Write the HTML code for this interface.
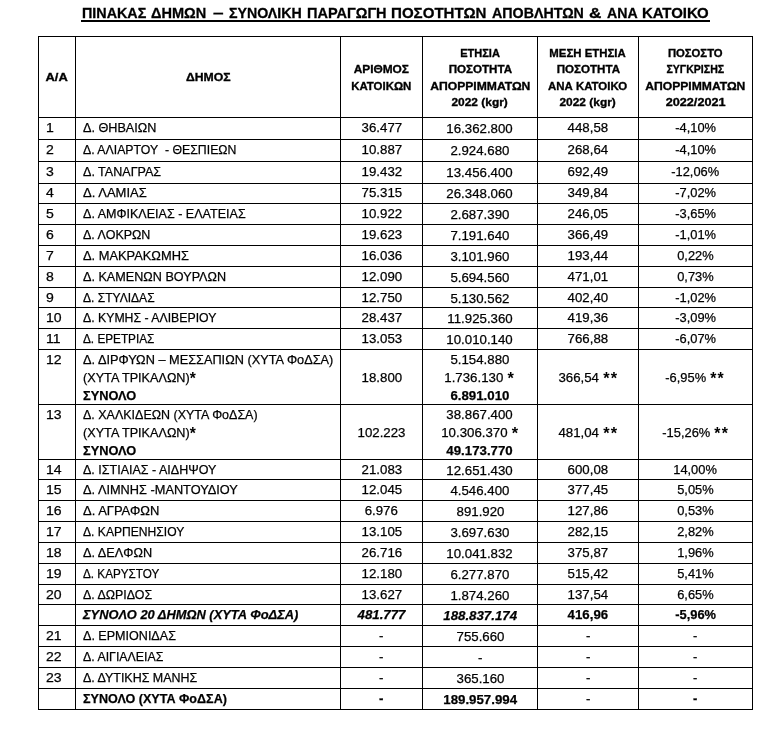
<!DOCTYPE html>
<html lang="el"><head><meta charset="utf-8"><title>ΠΙΝΑΚΑΣ ΔΗΜΩΝ</title>
<style>
html,body{margin:0;padding:0;background:#fff;}
body{width:784px;height:738px;position:relative;overflow:hidden;font-family:"Liberation Sans",sans-serif;color:#000;}
#title{position:absolute;left:0;top:4px;width:784px;height:20px;font-weight:bold;-webkit-text-stroke:0.3px #000;font-size:15.5px;line-height:18px;white-space:nowrap;}
#title span{position:absolute;top:0;display:block;transform-origin:0 50%;}
#title i{position:absolute;left:81px;top:16px;width:629px;height:2px;background:#000;}
table{position:absolute;left:38px;top:36px;border-collapse:collapse;table-layout:fixed;width:715px;}
td,th{border:1px solid #000;padding:0;margin:0;overflow:visible;white-space:nowrap;box-sizing:border-box;}
th{-webkit-text-stroke:0.3px #000;font-size:10px;line-height:16.33px;font-weight:bold;text-align:center;vertical-align:middle;padding-top:3px;}
th span{display:inline-block;transform:scaleX(1.13);transform-origin:50% 50%;}
td{-webkit-text-stroke:0.25px #000;font-size:13px;line-height:15px;vertical-align:top;text-align:center;padding-top:2px;}
td.l{text-align:left;padding-left:7px;}
td.c4{padding-top:3px;}
tr.up td{padding-top:1px}
tr.up td.c4{padding-top:2px}
tr.ml td{line-height:18px;padding-top:0px;}
tr.ml td div.w{height:50px;padding-top:0.5px;}
tr.ml td.c4 div.w{padding-top:1px;}
tr.ml td:first-child{line-height:15px;padding-top:2px}
td span{display:inline-block;transform-origin:50% 50%;transform:scaleX(1.02);}
td.l span{transform-origin:0 50%;transform:scaleX(0.972);}
td.n span{transform:scaleX(1.08);}
td.p span{transform:scaleX(0.99);}
b{font-weight:bold}
b.a2{font-size:16px;line-height:0;position:relative;top:2px;-webkit-text-stroke:0}
b.a{-webkit-text-stroke:0;font-size:16px;letter-spacing:1.3px;line-height:0;position:relative;top:2px;margin-left:0.5px}
</style></head><body>
<div id="title"><span style="left:81.6px;transform:scaleX(0.9235)">ΠΙΝΑΚΑΣ</span> <span style="left:151.2px;transform:scaleX(0.9379)">ΔΗΜΩΝ</span> <span style="left:212.9px;transform:scaleX(1.2250)">–</span> <span style="left:229.1px;transform:scaleX(0.9152)">ΣΥΝΟΛΙΚΗ</span> <span style="left:306.9px;transform:scaleX(0.9361)">ΠΑΡΑΓΩΓΗ</span> <span style="left:391.4px;transform:scaleX(0.9729)">ΠΟΣΟΤΗΤΩΝ</span> <span style="left:491.9px;transform:scaleX(0.9192)">ΑΠΟΒΛΗΤΩΝ</span> <span style="left:589.3px;transform:scaleX(1.1091)">&amp;</span> <span style="left:607.1px;transform:scaleX(0.9121)">ΑΝΑ</span> <span style="left:642.3px;transform:scaleX(0.9647)">ΚΑΤΟΙΚΟ</span><i></i></div>
<table><colgroup><col style="width:37px"><col style="width:265px"><col style="width:82px"><col style="width:115px"><col style="width:101px"><col style="width:114px"></colgroup>
<tr style="height:81px"><th><span style="transform:scaleX(1.2939)">Α/Α</span></th><th><span style="transform:scaleX(1.2236)">ΔΗΜΟΣ</span></th><th><span style="transform:scaleX(1.1877)">ΑΡΙΘΜΟΣ</span><br><span style="transform:scaleX(1.1434)">ΚΑΤΟΙΚΩΝ</span></th><th><span style="transform:scaleX(1.1023)">ΕΤΗΣΙΑ</span><br><span style="transform:scaleX(1.1572)">ΠΟΣΟΤΗΤΑ</span><br><span style="transform:scaleX(1.2136)">ΑΠΟΡΡΙΜΜΑΤΩΝ</span><br><span style="transform:scaleX(1.1915)">2022 (kgr)</span></th><th><span style="transform:scaleX(1.1385)">ΜΕΣΗ ΕΤΗΣΙΑ</span><br><span style="transform:scaleX(1.1572)">ΠΟΣΟΤΗΤΑ</span><br><span style="transform:scaleX(1.1434)">ΑΝΑ ΚΑΤΟΙΚΟ</span><br><span style="transform:scaleX(1.1915)">2022 (kgr)</span></th><th><span style="transform:scaleX(1.1278)">ΠΟΣΟΣΤΟ</span><br><span style="transform:scaleX(1.0554)">ΣΥΓΚΡΙΣΗΣ</span><br><span style="transform:scaleX(1.2136)">ΑΠΟΡΡΙΜΜΑΤΩΝ</span><br><span style="transform:scaleX(1.2690)">2022/2021</span></th></tr>
<tr style="height:22px"><td class="l n"><span>1</span></td><td class="l"><span style="transform:scaleX(0.9726)">Δ. ΘΗΒΑΙΩΝ</span></td><td><span>36.477</span></td><td class="c4"><span>16.362.800</span></td><td><span>448,58</span></td><td class="p"><span>-4,10%</span></td></tr>
<tr style="height:22px"><td class="l n"><span>2</span></td><td class="l"><span style="transform:scaleX(0.9449)">Δ. ΑΛΙΑΡΤΟΥ&nbsp; - ΘΕΣΠΙΕΩΝ</span></td><td><span>10.887</span></td><td class="c4"><span>2.924.680</span></td><td><span>268,64</span></td><td class="p"><span>-4,10%</span></td></tr>
<tr style="height:22px"><td class="l n"><span>3</span></td><td class="l"><span style="transform:scaleX(0.9648)">Δ. ΤΑΝΑΓΡΑΣ</span></td><td><span>19.432</span></td><td class="c4"><span>13.456.400</span></td><td><span>692,49</span></td><td class="p"><span>-12,06%</span></td></tr>
<tr class="up" style="height:20px"><td class="l n"><span>4</span></td><td class="l"><span style="transform:scaleX(1.0015)">Δ. ΛΑΜΙΑΣ</span></td><td><span>75.315</span></td><td class="c4"><span>26.348.060</span></td><td><span>349,84</span></td><td class="p"><span>-7,02%</span></td></tr>
<tr style="height:21px"><td class="l n"><span>5</span></td><td class="l"><span style="transform:scaleX(0.9652)">Δ. ΑΜΦΙΚΛΕΙΑΣ - ΕΛΑΤΕΙΑΣ</span></td><td><span>10.922</span></td><td class="c4"><span>2.687.390</span></td><td><span>246,05</span></td><td class="p"><span>-3,65%</span></td></tr>
<tr style="height:21px"><td class="l n"><span>6</span></td><td class="l"><span style="transform:scaleX(0.9605)">Δ. ΛΟΚΡΩΝ</span></td><td><span>19.623</span></td><td class="c4"><span>7.191.640</span></td><td><span>366,49</span></td><td class="p"><span>-1,01%</span></td></tr>
<tr style="height:21px"><td class="l n"><span>7</span></td><td class="l"><span style="transform:scaleX(0.9887)">Δ. ΜΑΚΡΑΚΩΜΗΣ</span></td><td><span>16.036</span></td><td class="c4"><span>3.101.960</span></td><td><span>193,44</span></td><td class="p"><span>0,22%</span></td></tr>
<tr style="height:21px"><td class="l n"><span>8</span></td><td class="l"><span style="transform:scaleX(0.9709)">Δ. ΚΑΜΕΝΩΝ ΒΟΥΡΛΩΝ</span></td><td><span>12.090</span></td><td class="c4"><span>5.694.560</span></td><td><span>471,01</span></td><td class="p"><span>0,73%</span></td></tr>
<tr style="height:20px"><td class="l n"><span>9</span></td><td class="l"><span style="transform:scaleX(0.9265)">Δ. ΣΤΥΛΙΔΑΣ</span></td><td><span>12.750</span></td><td class="c4"><span>5.130.562</span></td><td><span>402,40</span></td><td class="p"><span>-1,02%</span></td></tr>
<tr style="height:21px"><td class="l n"><span>10</span></td><td class="l"><span style="transform:scaleX(0.9441)">Δ. ΚΥΜΗΣ - ΑΛΙΒΕΡΙΟΥ</span></td><td><span>28.437</span></td><td class="c4"><span>11.925.360</span></td><td><span>419,36</span></td><td class="p"><span>-3,09%</span></td></tr>
<tr style="height:21px"><td class="l n"><span>11</span></td><td class="l"><span style="transform:scaleX(0.9041)">Δ. ΕΡΕΤΡΙΑΣ</span></td><td><span>13.053</span></td><td class="c4"><span>10.010.140</span></td><td><span>766,88</span></td><td class="p"><span>-6,07%</span></td></tr>
<tr class="ml" style="height:55px"><td class="l n"><span>12</span></td><td class="l"><div class="w"><span style="transform:scaleX(0.9807)">Δ. ΔΙΡΦΥΩΝ – ΜΕΣΣΑΠΙΩΝ (ΧΥΤΑ ΦοΔΣΑ)</span><br><span style="transform:scaleX(0.9732)">(ΧΥΤΑ ΤΡΙΚΑΛΩΝ)<b class="a2">*</b></span><br><b><span style="transform:scaleX(0.9840)">ΣΥΝΟΛΟ</span></b></div></td><td><div class="w"><br><span>18.800</span></div></td><td class="c4"><div class="w"><span>5.154.880</span><br><span>1.736.130 <b class="a">*</b></span><br><b><span>6.891.010</span></b></div></td><td><div class="w"><br><span>366,54 <b class="a">**</b></span></div></td><td class="p"><div class="w"><br><span>-6,95% <b class="a">**</b></span></div></td></tr>
<tr class="ml" style="height:55px"><td class="l n"><span>13</span></td><td class="l"><div class="w"><span style="transform:scaleX(0.9602)">Δ. ΧΑΛΚΙΔΕΩΝ (ΧΥΤΑ ΦοΔΣΑ)</span><br><span style="transform:scaleX(0.9732)">(ΧΥΤΑ ΤΡΙΚΑΛΩΝ)<b class="a2">*</b></span><br><b><span style="transform:scaleX(0.9840)">ΣΥΝΟΛΟ</span></b></div></td><td><div class="w"><br><span>102.223</span></div></td><td class="c4"><div class="w"><span>38.867.400</span><br><span>10.306.370 <b class="a">*</b></span><br><b><span>49.173.770</span></b></div></td><td><div class="w"><br><span>481,04 <b class="a">**</b></span></div></td><td class="p"><div class="w"><br><span>-15,26% <b class="a">**</b></span></div></td></tr>
<tr style="height:20px"><td class="l n"><span>14</span></td><td class="l"><span style="transform:scaleX(0.9631)">Δ. ΙΣΤΙΑΙΑΣ - ΑΙΔΗΨΟΥ</span></td><td><span>21.083</span></td><td class="c4"><span>12.651.430</span></td><td><span>600,08</span></td><td class="p"><span>14,00%</span></td></tr>
<tr style="height:21px"><td class="l n"><span>15</span></td><td class="l"><span style="transform:scaleX(0.9820)">Δ. ΛΙΜΝΗΣ -ΜΑΝΤΟΥΔΙΟΥ</span></td><td><span>12.045</span></td><td class="c4"><span>4.546.400</span></td><td><span>377,45</span></td><td class="p"><span>5,05%</span></td></tr>
<tr style="height:21px"><td class="l n"><span>16</span></td><td class="l"><span style="transform:scaleX(0.9972)">Δ. ΑΓΡΑΦΩΝ</span></td><td><span>6.976</span></td><td class="c4"><span>891.920</span></td><td><span>127,86</span></td><td class="p"><span>0,53%</span></td></tr>
<tr style="height:21px"><td class="l n"><span>17</span></td><td class="l"><span style="transform:scaleX(0.9312)">Δ. ΚΑΡΠΕΝΗΣΙΟΥ</span></td><td><span>13.105</span></td><td class="c4"><span>3.697.630</span></td><td><span>282,15</span></td><td class="p"><span>2,82%</span></td></tr>
<tr style="height:21px"><td class="l n"><span>18</span></td><td class="l"><span style="transform:scaleX(0.9771)">Δ. ΔΕΛΦΩΝ</span></td><td><span>26.716</span></td><td class="c4"><span>10.041.832</span></td><td><span>375,87</span></td><td class="p"><span>1,96%</span></td></tr>
<tr style="height:21px"><td class="l n"><span>19</span></td><td class="l"><span style="transform:scaleX(0.9008)">Δ. ΚΑΡΥΣΤΟΥ</span></td><td><span>12.180</span></td><td class="c4"><span>6.277.870</span></td><td><span>515,42</span></td><td class="p"><span>5,41%</span></td></tr>
<tr style="height:20px"><td class="l n"><span>20</span></td><td class="l"><span style="transform:scaleX(0.9539)">Δ. ΔΩΡΙΔΟΣ</span></td><td><span>13.627</span></td><td class="c4"><span>1.874.260</span></td><td><span>137,54</span></td><td class="p"><span>6,65%</span></td></tr>
<tr style="height:21px;font-weight:bold;font-style:italic"><td></td><td class="l"><span style="transform:scaleX(0.9900)">ΣΥΝΟΛΟ 20 ΔΗΜΩΝ (ΧΥΤΑ ΦοΔΣΑ)</span></td><td><span>481.777</span></td><td class="c4"><span>188.837.174</span></td><td style="font-style:normal"><span>416,96</span></td><td class="p" style="font-style:normal"><span>-5,96%</span></td></tr>
<tr style="height:21px"><td class="l n"><span>21</span></td><td class="l"><span style="transform:scaleX(0.9657)">Δ. ΕΡΜΙΟΝΙΔΑΣ</span></td><td><span>-</span></td><td class="c4"><span>755.660</span></td><td><span>-</span></td><td class="p"><span>-</span></td></tr>
<tr style="height:21px"><td class="l n"><span>22</span></td><td class="l"><span style="transform:scaleX(0.9504)">Δ. ΑΙΓΙΑΛΕΙΑΣ</span></td><td><span>-</span></td><td class="c4"><span>-</span></td><td><span>-</span></td><td class="p"><span>-</span></td></tr>
<tr style="height:21px"><td class="l n"><span>23</span></td><td class="l"><span style="transform:scaleX(0.9592)">Δ. ΔΥΤΙΚΗΣ ΜΑΝΗΣ</span></td><td><span>-</span></td><td class="c4"><span>365.160</span></td><td><span>-</span></td><td class="p"><span>-</span></td></tr>
<tr style="height:21px;font-weight:bold"><td></td><td class="l"><span style="transform:scaleX(0.9671)">ΣΥΝΟΛΟ (ΧΥΤΑ ΦοΔΣΑ)</span></td><td><span>-</span></td><td class="c4"><span>189.957.994</span></td><td style="font-weight:normal"><span>-</span></td><td class="p"><span>-</span></td></tr>
</table>
</body></html>
